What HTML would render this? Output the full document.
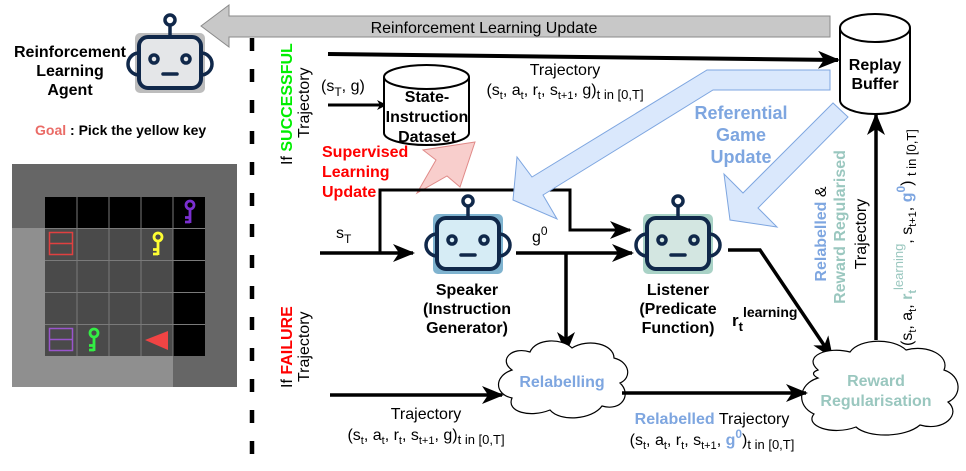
<!DOCTYPE html>
<html><head><meta charset="utf-8"><style>
html,body{margin:0;padding:0;background:#fff;}
svg{display:block;font-family:"Liberation Sans",sans-serif;}
</style></head><body>
<svg width="966" height="471" viewBox="0 0 966 471" xmlns="http://www.w3.org/2000/svg">
<defs>
<marker id="ah" markerWidth="10" markerHeight="10" refX="8" refY="5" orient="auto" markerUnits="userSpaceOnUse">
<path d="M0,0 L10,5 L0,10 L3,5 Z" fill="#000"/>
</marker>
<marker id="ahb" markerWidth="22" markerHeight="18" refX="20" refY="9" orient="auto" markerUnits="userSpaceOnUse">
<path d="M0,0 L22,9 L0,18 L6,9 Z" fill="#000"/>
</marker>
<g id="key">
<circle cx="0" cy="0" r="4" fill="none" stroke-width="2.8"/>
<path d="M0,4 V18 M0,12.5 H-5 M0,17 H-5" fill="none" stroke-width="2.8"/>
</g>
</defs>

<polygon points="201,26 229,5 229,16 830,16 830,37 229,37 229,47" fill="#c8c8c8" stroke="#8a8a8a" stroke-width="1"/>
<text x="484" y="33" font-size="16" text-anchor="middle">Reinforcement Learning Update</text>

<g transform="translate(135,33)">
<rect x="0" y="0" width="70" height="60" rx="5" fill="#bdbdbd"/>
<path d="M4,20 a8,8 0 0 0 0,22" fill="none" stroke="#10284a" stroke-width="3.5"/>
<path d="M66,20 a8,8 0 0 1 0,22" fill="none" stroke="#10284a" stroke-width="3.5"/>
<rect x="4" y="4" width="62" height="51" rx="9" fill="#e4e6e8" stroke="#10284a" stroke-width="4"/>
<line x1="35" y1="4" x2="35" y2="-8" stroke="#10284a" stroke-width="3.5"/>
<circle cx="35" cy="-13" r="5" fill="#fff" stroke="#10284a" stroke-width="3.5"/>
<circle cx="19" cy="26" r="4" fill="none" stroke="#10284a" stroke-width="3.5"/>
<circle cx="51" cy="26" r="4" fill="none" stroke="#10284a" stroke-width="3.5"/>
<line x1="28" y1="41" x2="42" y2="41" stroke="#10284a" stroke-width="3.5" stroke-linecap="round"/>
</g>
<g transform="translate(433,214)">
<rect x="0" y="0" width="70" height="60" rx="5" fill="#7fb3cf"/>
<path d="M4,20 a8,8 0 0 0 0,22" fill="none" stroke="#10284a" stroke-width="3.5"/>
<path d="M66,20 a8,8 0 0 1 0,22" fill="none" stroke="#10284a" stroke-width="3.5"/>
<rect x="4" y="4" width="62" height="51" rx="9" fill="#d6ecf5" stroke="#10284a" stroke-width="4"/>
<line x1="35" y1="4" x2="35" y2="-8" stroke="#10284a" stroke-width="3.5"/>
<circle cx="35" cy="-13" r="5" fill="#fff" stroke="#10284a" stroke-width="3.5"/>
<circle cx="19" cy="26" r="4" fill="none" stroke="#10284a" stroke-width="3.5"/>
<circle cx="51" cy="26" r="4" fill="none" stroke="#10284a" stroke-width="3.5"/>
<line x1="28" y1="41" x2="42" y2="41" stroke="#10284a" stroke-width="3.5" stroke-linecap="round"/>
</g>
<g transform="translate(643,214)">
<rect x="0" y="0" width="70" height="60" rx="5" fill="#a9d2c6"/>
<path d="M4,20 a8,8 0 0 0 0,22" fill="none" stroke="#10284a" stroke-width="3.5"/>
<path d="M66,20 a8,8 0 0 1 0,22" fill="none" stroke="#10284a" stroke-width="3.5"/>
<rect x="4" y="4" width="62" height="51" rx="9" fill="#d3e6e1" stroke="#10284a" stroke-width="4"/>
<line x1="35" y1="4" x2="35" y2="-8" stroke="#10284a" stroke-width="3.5"/>
<circle cx="35" cy="-13" r="5" fill="#fff" stroke="#10284a" stroke-width="3.5"/>
<circle cx="19" cy="26" r="4" fill="none" stroke="#10284a" stroke-width="3.5"/>
<circle cx="51" cy="26" r="4" fill="none" stroke="#10284a" stroke-width="3.5"/>
<line x1="28" y1="41" x2="42" y2="41" stroke="#10284a" stroke-width="3.5" stroke-linecap="round"/>
</g>

<g font-size="16" font-weight="bold" text-anchor="middle">
<text x="70" y="57">Reinforcement</text>
<text x="70" y="76">Learning</text>
<text x="70" y="95">Agent</text>
</g>
<text x="35" y="135" font-size="14" font-weight="bold"><tspan fill="#ea6b66">Goal</tspan> : Pick the yellow key</text>

<rect x="12" y="164" width="225" height="223" fill="#666"/>
<rect x="12" y="228" width="161" height="159" fill="#8f8f8f"/>
<rect x="45" y="197" width="160" height="32" fill="#000"/>
<rect x="45" y="229" width="128" height="127" fill="#4a4a4a"/>
<rect x="173" y="229" width="32" height="127" fill="#000"/>
<g stroke="#7a7a7a" stroke-width="1">
<line x1="77" y1="197" x2="77" y2="356"/><line x1="109" y1="197" x2="109" y2="356"/>
<line x1="141" y1="197" x2="141" y2="356"/><line x1="173" y1="197" x2="173" y2="356"/>
<line x1="45" y1="228.5" x2="205" y2="228.5"/><line x1="45" y1="260.5" x2="205" y2="260.5"/>
<line x1="45" y1="292.5" x2="205" y2="292.5"/><line x1="45" y1="324.5" x2="205" y2="324.5"/>
</g>
<use href="#key" transform="translate(190,205)" stroke="#7a2fd0"/>
<use href="#key" transform="translate(158,237)" stroke="#ffff33"/>
<use href="#key" transform="translate(94,333)" stroke="#33ee44"/>
<rect x="49.5" y="232.5" width="23" height="22" fill="none" stroke="#e04040" stroke-width="1.5"/>
<line x1="49.5" y1="243.5" x2="72.5" y2="243.5" stroke="#e04040" stroke-width="1.5"/>
<rect x="49.5" y="328.5" width="23" height="22" fill="none" stroke="#9955cc" stroke-width="1.5"/>
<line x1="49.5" y1="339.5" x2="72.5" y2="339.5" stroke="#9955cc" stroke-width="1.5"/>
<polygon points="145,340 168,331 168,350" fill="#f04444"/>

<line x1="252" y1="38" x2="252" y2="470" stroke="#000" stroke-width="4.5" stroke-dasharray="13,18"/>

<text transform="translate(292,165) rotate(-90)" font-size="16">If <tspan fill="#00ee00" font-weight="bold">SUCCESSFUL</tspan></text>
<text transform="translate(309,138) rotate(-90)" font-size="16">Trajectory</text>
<text transform="translate(292,388) rotate(-90)" font-size="16">If <tspan fill="#ff0000" font-weight="bold">FAILURE</tspan></text>
<text transform="translate(309,382) rotate(-90)" font-size="16">Trajectory</text>

<line x1="328" y1="54" x2="838" y2="60" stroke="#000" stroke-width="4" marker-end="url(#ahb)"/>
<text x="565" y="75" font-size="16" text-anchor="middle">Trajectory</text>
<text x="565" y="95" font-size="16" text-anchor="middle">(s<tspan font-size="11" dy="4">t</tspan><tspan dy="-4">, a</tspan><tspan font-size="11" dy="4">t</tspan><tspan dy="-4">, r</tspan><tspan font-size="11" dy="4">t</tspan><tspan dy="-4">, s</tspan><tspan font-size="11" dy="4">t+1</tspan><tspan dy="-4">, g)</tspan><tspan font-size="13" dy="4">t in [0,T]</tspan></text>

<text x="321" y="91" font-size="16">(s<tspan font-size="12" dy="5">T</tspan><tspan dy="-5">, g)</tspan></text>
<line x1="328" y1="105" x2="385" y2="105" stroke="#000" stroke-width="3" marker-end="url(#ah)"/>

<path d="M384,77 V133 A42.5,12 0 0 0 469,133 V77" fill="#fff" stroke="#000" stroke-width="2"/>
<ellipse cx="426.5" cy="77" rx="42.5" ry="12" fill="#fff" stroke="#000" stroke-width="2"/>
<g font-size="16" font-weight="bold" text-anchor="middle">
<text x="427" y="102">State-</text><text x="427" y="122">Instruction</text><text x="427" y="142">Dataset</text>
</g>
<path d="M840,28 V100 A35,14 0 0 0 910,100 V28" fill="#fff" stroke="#000" stroke-width="2"/>
<ellipse cx="875" cy="28" rx="35" ry="14" fill="#fff" stroke="#000" stroke-width="2"/>
<g font-size="16" font-weight="bold" text-anchor="middle">
<text x="875" y="70">Replay</text><text x="875" y="89">Buffer</text>
</g>

<g font-size="16" font-weight="bold" fill="#ff0000">
<text x="322" y="157">Supervised</text><text x="322" y="177">Learning</text><text x="322" y="197">Update</text>
</g>
<polygon points="475,142 460,187 447,176 417,193 436,160 423,150" fill="#f8cecc" stroke="#e08a88" stroke-width="1"/>

<polyline points="380,253 380,190 570,190 570,230 630,230" fill="none" stroke="#000" stroke-width="3" marker-end="url(#ahb)"/>
<line x1="320" y1="253" x2="413" y2="253" stroke="#000" stroke-width="3.5" marker-end="url(#ahb)"/>
<text x="336" y="238" font-size="16">s<tspan font-size="12" dy="5">T</tspan></text>
<line x1="516" y1="253" x2="632" y2="253" stroke="#000" stroke-width="3.5" marker-end="url(#ahb)"/>
<text x="532" y="242" font-size="16">g<tspan font-size="12" dy="-7">0</tspan></text>
<line x1="566" y1="253" x2="566" y2="352" stroke="#000" stroke-width="3.5" marker-end="url(#ahb)"/>
<polyline points="728,250 760,250 832,357" fill="none" stroke="#000" stroke-width="3.5" marker-end="url(#ahb)"/>
<text x="732" y="326" font-size="17" font-weight="bold">r<tspan font-size="13" dy="5">t</tspan><tspan font-size="14" dy="-14">learning</tspan></text>

<polygon points="830,70 707,70 532,177 517,157 513,200 557,219 543,195 713,90 830,90" fill="#dae8fc" stroke="#7ea6e0" stroke-width="1"/>
<polygon points="833,103 743,193 724,174 730,220 777,227 758,208 848,117" fill="#dae8fc" stroke="#7ea6e0" stroke-width="1"/>
<g font-size="18" font-weight="bold" fill="#7ea6e0" text-anchor="middle">
<text x="741" y="119">Referential</text><text x="741" y="141">Game</text><text x="741" y="163">Update</text>
</g>

<g font-size="16" font-weight="bold" text-anchor="middle">
<text x="467" y="295">Speaker</text><text x="467" y="314">(Instruction</text><text x="467" y="333">Generator)</text>
<text x="678" y="295">Listener</text><text x="678" y="314">(Predicate</text><text x="678" y="333">Function)</text>
</g>

<path d="M512,370 C498,360 512,346 530,352 C536,338 562,338 572,348 C588,338 614,344 614,358 C630,362 632,378 620,383 C632,394 622,412 602,406 C592,420 560,422 550,410 C530,418 506,412 512,398 C494,394 494,376 512,370 Z" fill="#fff" stroke="#000" stroke-width="1.2"/>
<text x="562" y="387" font-size="16" font-weight="bold" fill="#7ea6e0" text-anchor="middle">Relabelling</text>
<path d="M818,370 C802,356 828,346 850,352 C860,338 894,338 906,350 C928,344 950,356 944,370 C962,376 962,396 948,402 C962,414 944,432 920,425 C905,438 868,438 856,427 C832,436 804,426 814,414 C796,406 798,384 818,378 C812,375 812,372 818,370 Z" fill="#fff" stroke="#000" stroke-width="1.2"/>
<g font-size="16" font-weight="bold" fill="#9ac7bf" text-anchor="middle">
<text x="876" y="386">Reward</text><text x="876" y="406">Regularisation</text>
</g>

<line x1="330" y1="395" x2="502" y2="395" stroke="#000" stroke-width="3.5" marker-end="url(#ahb)"/>
<text x="426" y="419" font-size="16" text-anchor="middle">Trajectory</text>
<text x="426" y="440" font-size="16" text-anchor="middle">(s<tspan font-size="11" dy="4">t</tspan><tspan dy="-4">, a</tspan><tspan font-size="11" dy="4">t</tspan><tspan dy="-4">, r</tspan><tspan font-size="11" dy="4">t</tspan><tspan dy="-4">, s</tspan><tspan font-size="11" dy="4">t+1</tspan><tspan dy="-4">, g)</tspan><tspan font-size="13" dy="4">t in [0,T]</tspan></text>
<line x1="622" y1="393" x2="806" y2="393" stroke="#000" stroke-width="3.5" marker-end="url(#ahb)"/>
<text x="712" y="424" font-size="16" text-anchor="middle"><tspan fill="#7ea6e0" font-weight="bold">Relabelled</tspan> Trajectory</text>
<text x="712" y="445" font-size="16" text-anchor="middle">(s<tspan font-size="11" dy="4">t</tspan><tspan dy="-4">, a</tspan><tspan font-size="11" dy="4">t</tspan><tspan dy="-4">, r</tspan><tspan font-size="11" dy="4">t</tspan><tspan dy="-4">, s</tspan><tspan font-size="11" dy="4">t+1</tspan><tspan dy="-4">, </tspan><tspan fill="#7ea6e0" font-weight="bold">g</tspan><tspan fill="#7ea6e0" font-weight="bold" font-size="12" dy="-7">0</tspan><tspan dy="7">)</tspan><tspan font-size="13" dy="4">t in [0,T]</tspan></text>

<line x1="876" y1="340" x2="876" y2="115" stroke="#000" stroke-width="3.5" marker-end="url(#ahb)"/>
<text transform="translate(826,234) rotate(-90)" font-size="16" text-anchor="middle"><tspan fill="#7ea6e0" font-weight="bold">Relabelled</tspan> &amp;</text>
<text transform="translate(845,227) rotate(-90)" font-size="16" font-weight="bold" fill="#9ac7bf" text-anchor="middle">Reward Regularised</text>
<text transform="translate(866,234) rotate(-90)" font-size="16" text-anchor="middle">Trajectory</text>
<text transform="translate(912,346) rotate(-90)" font-size="16">(s<tspan font-size="11" dy="4">t</tspan><tspan dy="-4">, a</tspan><tspan font-size="11" dy="4">t</tspan><tspan dy="-4">, </tspan><tspan fill="#9ac7bf" font-weight="bold">r</tspan><tspan fill="#9ac7bf" font-weight="bold" font-size="11" dy="4">t</tspan><tspan fill="#9ac7bf" font-size="13" dy="-13">learning</tspan><tspan dy="9">, s</tspan><tspan font-size="11" dy="4">t+1</tspan><tspan dy="-4">, </tspan><tspan fill="#7ea6e0" font-weight="bold">g</tspan><tspan fill="#7ea6e0" font-weight="bold" font-size="12" dy="-7">0</tspan><tspan dy="7">) </tspan><tspan font-size="13" dy="4">t in [0,T]</tspan></text>
</svg>
</body></html>
